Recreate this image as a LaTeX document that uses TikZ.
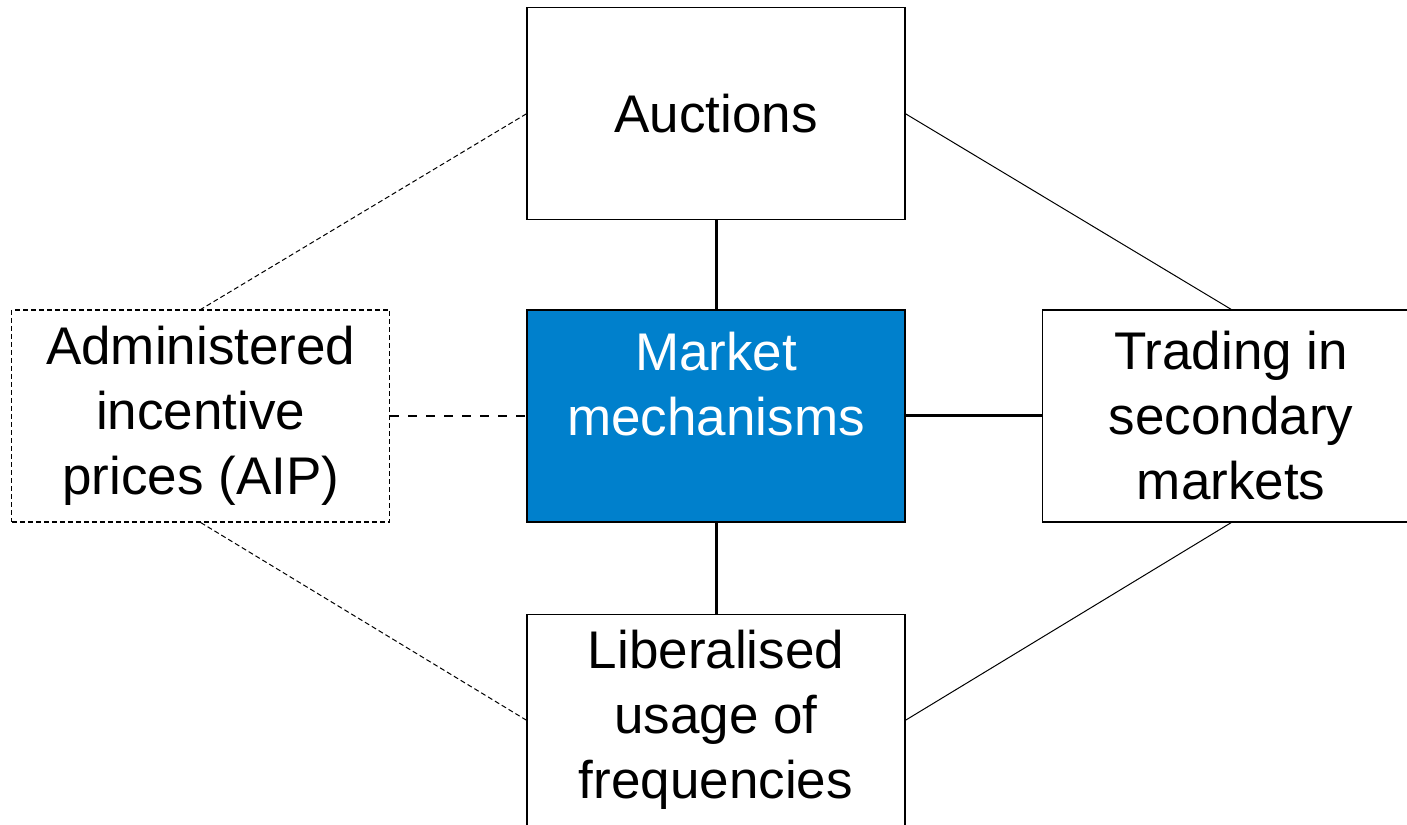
\documentclass[tikz,border=0pt]{standalone}
\usepackage{fontspec}
\setmainfont{Liberation Sans}
\usetikzlibrary{positioning}
\definecolor{hubblue}{RGB}{0,128,204}
\tikzset{%
  % boxes
  cell/.style={draw, line width=0.6pt, align=center, minimum width=189pt, minimum height=106pt, inner sep=0pt, font=\fontsize{26.5}{32.5}\selectfont},
  hub/.style={cell, fill=hubblue, text=white},
  loose/.style={cell, dash pattern=on 2.5pt off 1.5pt},
  % links
  core/.style={line width=1.5pt},
  coreweak/.style={line width=1.2pt, dash pattern=on 4.5pt off 4.5pt},
  side/.style={line width=0.5pt},
  sideweak/.style={line width=0.5pt, dash pattern=on 2.5pt off 1.5pt},
}

\begin{document}
\begin{tikzpicture}
  \useasboundingbox (-358pt,-204pt) rectangle (345.5pt,208pt);

  \node[hub] (mm) at (0,0) {Market\\mechanisms\\\mbox{}};
  \node[cell, above=44.5pt of mm] (auc) {Auctions};
  \node[cell, below=45.5pt of mm] (lib) {Liberalised\\usage of\\frequencies};
  \node[loose, left=68pt of mm] (aip) {Administered\\incentive\\prices (AIP)};
  \node[cell, right=68pt of mm] (trd) {Trading in\\secondary\\markets};

  \draw[core] (auc) -- (mm);
  \draw[core] (mm) -- (lib);
  \draw[core] (mm) -- (trd);
  \draw[coreweak] (aip) -- (mm);

  \draw[sideweak] (auc.west) -- (aip.north);
  \draw[sideweak] (aip.south) -- (lib.west);
  \draw[side] (auc.east) -- (trd.north);
  \draw[side] (trd.south) -- (lib.east);
\end{tikzpicture}
\end{document}
